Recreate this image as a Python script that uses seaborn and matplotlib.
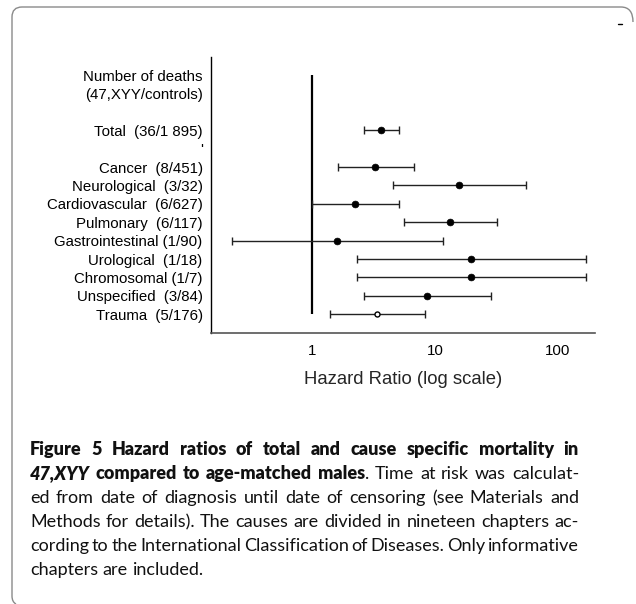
import numpy as np
import pandas as pd
import seaborn as sns
import matplotlib
matplotlib.use("Agg")
import matplotlib.pyplot as plt
from matplotlib.path import Path
from matplotlib.patches import PathPatch
from matplotlib.font_manager import FontProperties

# y axis rows (top to bottom), as printed in the figure
tick_labels = [
    "Number of deaths", "(47,XYY/controls)", "", "Total  (36/1 895)", "'",
    "Cancer  (8/451)", "Neurological  (3/32)", "Cardiovascular  (6/627)",
    "Pulmonary  (6/117)", "Gastrointestinal (1/90)", "Urological  (1/18)",
    "Chromosomal (1/7)", "Unspecified  (3/84)", "Trauma  (5/176)",
]

# hazard ratios with 95% CI
causes = [
    "Total  (36/1 895)", "Cancer  (8/451)", "Neurological  (3/32)",
    "Cardiovascular  (6/627)", "Pulmonary  (6/117)", "Gastrointestinal (1/90)",
    "Urological  (1/18)", "Chromosomal (1/7)", "Unspecified  (3/84)",
    "Trauma  (5/176)",
]
hr = [3.62, 3.27, 15.8, 2.24, 13.2, 1.6, 19.6, 19.6, 8.56, 3.4]
ci_lo = [2.63, 1.63, 4.6, 1.0, 5.6, 0.222, 2.32, 2.32, 2.63, 1.4]
ci_hi = [5.1, 6.7, 55, 5.07, 31.9, 11.6, 169, 169, 28.5, 8.34]
open_marker = [False] * 9 + [True]

x_ticks = [1, 10, 100]
x_ticklabels = ["1", "10", "100"]

caption = [
    [("Figure 5 Hazard ratios of total and cause specific mortality in", "b")],
    [("47,XYY", "bi"), (" compared to age-matched males", "b"),
     (". Time at risk was calculat-", "r")],
    [("ed from date of diagnosis until date of censoring (see Materials and", "r")],
    [("Methods for details). The causes are divided in nineteen chapters ac-", "r")],
    [("cording to the International Classification of Diseases. Only informative", "r")],
    [("chapters are included.", "r")],
]

df = pd.DataFrame({"cause": causes, "hr": hr, "lo": ci_lo, "hi": ci_hi,
                   "open": open_marker})
df["row"] = df["cause"].map(tick_labels.index)

sns.set_style("white")
plt.rcParams["font.family"] = ["Liberation Sans", "DejaVu Sans"]

W, H = 636, 604
fig = plt.figure(figsize=(W / 100, H / 100), dpi=100)

def fx(x):
    return x / W

def fy(y):
    return 1 - y / H

ax = fig.add_axes([fx(211), fy(333), fx(595) - fx(211), fy(57) - fy(333)])

# reference line at HR = 1
ax.vlines(1, 0, len(tick_labels) - 1, color="black", lw=1.6, zorder=2)

ax.errorbar(df["hr"], df["row"], xerr=[df["hr"] - df["lo"], df["hi"] - df["hr"]],
            fmt="none", ecolor="#222222", elinewidth=1.0, capsize=2.6,
            capthick=1.0, zorder=3)
sns.scatterplot(data=df[~df["open"]], x="hr", y="row", ax=ax, color="black",
                s=24, edgecolor="black", linewidth=0.5, zorder=4, legend=False)
sns.scatterplot(data=df[df["open"]], x="hr", y="row", ax=ax, color="white",
                s=13, edgecolor="black", linewidth=1.0, zorder=4, legend=False)

ax.set_xscale("log")
ax.set_xlim(0.151, 200)
ax.set_ylim(14.02, -0.98)
ax.set_xticks(x_ticks)
ax.set_xticklabels(x_ticklabels)
ax.xaxis.set_minor_locator(matplotlib.ticker.NullLocator())
ax.set_yticks(range(len(tick_labels)))
ax.set_yticklabels(tick_labels)
ax.tick_params(axis="both", length=0, labelsize=10.8, colors="black")
ax.tick_params(axis="y", pad=6)
ax.tick_params(axis="x", pad=8)
ax.set_xlabel("Hazard Ratio (log scale)", fontsize=13.3, labelpad=9)
ax.set_ylabel("")
for side in ["top", "right"]:
    ax.spines[side].set_visible(False)
ax.spines["left"].set_color("black")
ax.spines["left"].set_linewidth(1.0)
ax.spines["bottom"].set_color("#555555")
ax.spines["bottom"].set_linewidth(1.2)

# caption block, justified like the journal page
cap_size = 13.0
fonts = {
    "r": FontProperties(family="Lato", size=cap_size),
    "b": FontProperties(family="Lato", weight="heavy", size=cap_size),
    "bi": FontProperties(family="Lato", weight="heavy", style="italic", size=cap_size),
}
renderer = fig.canvas.get_renderer()

def width(s, st):
    t = fig.text(0, 0, s, fontproperties=fonts[st])
    w = t.get_window_extent(renderer=renderer).width
    t.remove()
    return w

def words_of(runs):
    words = [[]]
    for text, st in runs:
        parts = text.split(" ")
        for i, p in enumerate(parts):
            if i > 0:
                words.append([])
            if p:
                words[-1].append((p, st))
    return [w for w in words if w]

x0, x1 = 30, 579
space = width("a a", "r") - width("aa", "r")
for i, runs in enumerate(caption):
    words = words_of(runs)
    wws = [sum(width(p, st) for p, st in w) for w in words]
    if i < len(caption) - 1 and len(words) > 1:
        gap = max((x1 - x0 - sum(wws)) / (len(words) - 1), 2.0)
    else:
        gap = space
    x = x0
    base = 455 + 24 * i
    for w, ww in zip(words, wws):
        xx = x
        for p, st in w:
            fig.text(fx(xx), fy(base), p, fontproperties=fonts[st],
                     va="baseline", ha="left", color="#111111")
            xx += width(p, st)
        x += ww + gap

# page frame
frame = [(633, 22), (633, 7), (621, 7), (22, 7), (12, 7), (12, 17),
         (12, 596), (12, 602), (16, 604)]
codes = [Path.MOVETO, Path.CURVE3, Path.CURVE3, Path.LINETO, Path.CURVE3,
         Path.CURVE3, Path.LINETO, Path.CURVE3, Path.CURVE3]
fig.patches.append(PathPatch(Path([(fx(a), fy(b)) for a, b in frame], codes),
                             transform=fig.transFigure, fill=False,
                             edgecolor="#8a8a8a", lw=1.0))
fig.lines.append(plt.Line2D([fx(618), fx(622)], [fy(24), fy(24)],
                            transform=fig.transFigure, color="black", lw=1.0))

fig.savefig("out.png", dpi=100)
